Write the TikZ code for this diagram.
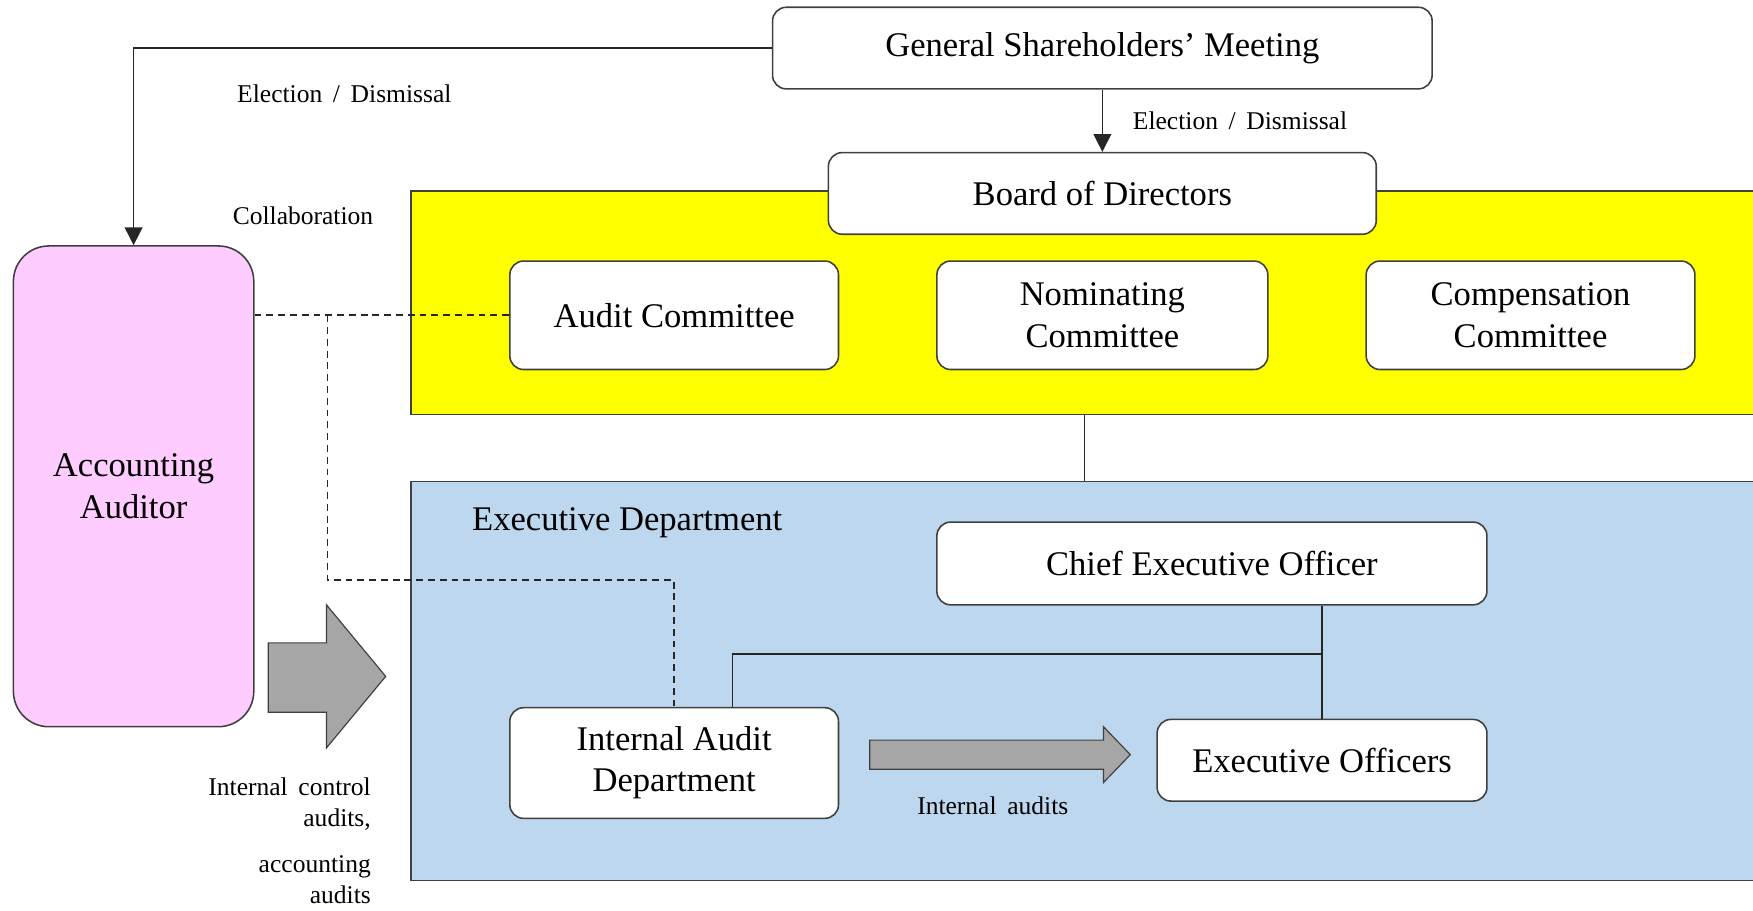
\documentclass[tikz,border=0pt]{standalone}
\usepackage{fontspec}
\setmainfont{Liberation Serif}
\usepackage{tikz}
\usetikzlibrary{arrows.meta,positioning}
\definecolor{pinkbox}{RGB}{255,204,255}
\definecolor{execblue}{RGB}{189,215,238}
\definecolor{boardyellow}{RGB}{255,255,0}
\definecolor{blockgray}{RGB}{166,166,166}
\tikzset{
  box/.style={draw=black!75, fill=white, rounded corners=7pt, line width=0.8pt,
    align=center, inner sep=0pt, font=\fontsize{17.6}{21}\selectfont},
  area/.style={draw=black!75, line width=0.8pt, anchor=north west, inner sep=0pt},
  lbl/.style={inner sep=0pt, align=right, font=\fontsize{13}{16}\selectfont},
  conn/.style={draw=black!85, line width=0.8pt},
  tip/.style={-{Triangle[length=9pt,width=9pt]}},
  dashline/.style={conn, dash pattern=on 3.5pt off 2.5pt},
  blockarrow/.style={draw=black!75, fill=blockgray, line width=0.6pt}
}

\begin{document}
\begin{tikzpicture}
\useasboundingbox (0,0) rectangle (31.36,-16.28);
% the two coloured areas run off the right edge
\node[area, fill=boardyellow, minimum width=25cm, minimum height=4cm] (board) at (7.34,-3.4) {};
\node[area, fill=execblue, minimum width=25cm, minimum height=7.14cm] (exec) at (7.34,-8.6) {};
\node[anchor=west, inner sep=0pt, font=\fontsize{17.6}{21}\selectfont] (execlbl) at (8.44,-9.36) {Executive Department};

\node[box, minimum width=11.8cm, minimum height=1.46cm] (gsm) at (19.72,-0.86) {General Shareholders’ Meeting};
\node[box, minimum width=9.8cm, minimum height=1.46cm] (bod) at (19.72,-3.46) {Board of Directors};
\node[box, minimum width=5.88cm, minimum height=1.94cm] (audit) at (12.06,-5.64) {Audit Committee};
\node[box, minimum width=5.92cm, minimum height=1.94cm] (nom) at (19.72,-5.64) {Nominating\\Committee};
\node[box, minimum width=5.88cm, minimum height=1.94cm] (comp) at (27.38,-5.64) {Compensation\\Committee};
\node[box, fill=pinkbox, rounded corners=18pt, minimum width=4.3cm, minimum height=8.6cm] (acc) at (2.39,-8.7) {Accounting\\Auditor};
\node[box, minimum width=9.84cm, minimum height=1.48cm] (ceo) at (21.68,-10.08) {Chief Executive Officer};
\node[box, minimum width=5.9cm, minimum height=1.46cm] (eo) at (23.65,-13.6) {Executive Officers};
\node[box, minimum width=5.88cm, minimum height=1.98cm] (iad) at (12.06,-13.65) {Internal Audit\\Department};

% election lines
\draw[conn, tip] (gsm.south) -- (bod.north);
\draw[conn, tip] (gsm.west) -| (acc.north);
\node[lbl, anchor=west] (elect1) at (20.26,-2.16) {Election\, /\, Dismissal};
\node[lbl] (elect2) at (6.16,-1.68) {Election\, /\, Dismissal};
\node[lbl] (collab) at (5.42,-3.86) {Collaboration};

% board to executive
\draw[conn] (board.south -| 19.4,0) -- (exec.north -| 19.4,0);

% collaboration (dashed)
\coordinate (split) at (5.86,-5.64);
\draw[dashline] (acc.east |- audit.west) -- (audit.west);
\draw[dashline] (split) -- (5.86,-10.38) -| (iad.north);

% chain of command
\coordinate (iadtop) at ([xshift=1.04cm]iad.north);
\draw[conn] (ceo.south -| eo.north) -- (eo.north);
\draw[conn] (eo.north |- 0,-11.7) -| (iadtop);

% block arrows
\draw[blockarrow] (4.8,-11.5) -- (5.84,-11.5) -- (5.84,-10.82) -- (6.9,-12.1)
  -- (5.84,-13.38) -- (5.84,-12.74) -- (4.8,-12.74) -- cycle;
\draw[blockarrow] (15.56,-13.24) -- (19.74,-13.24) -- (19.74,-13.0) -- (20.22,-13.5)
  -- (19.74,-14.0) -- (19.74,-13.76) -- (15.56,-13.76) -- cycle;
\node[lbl] (intaud) at (17.76,-14.42) {Internal\, audits};
\node[lbl, anchor=east] (ctrl) at (6.64,-14.38) {Internal\, control\\audits,};
\node[lbl, anchor=east] (acct) at (6.64,-15.74) {accounting\\audits};
\end{tikzpicture}
\end{document}
